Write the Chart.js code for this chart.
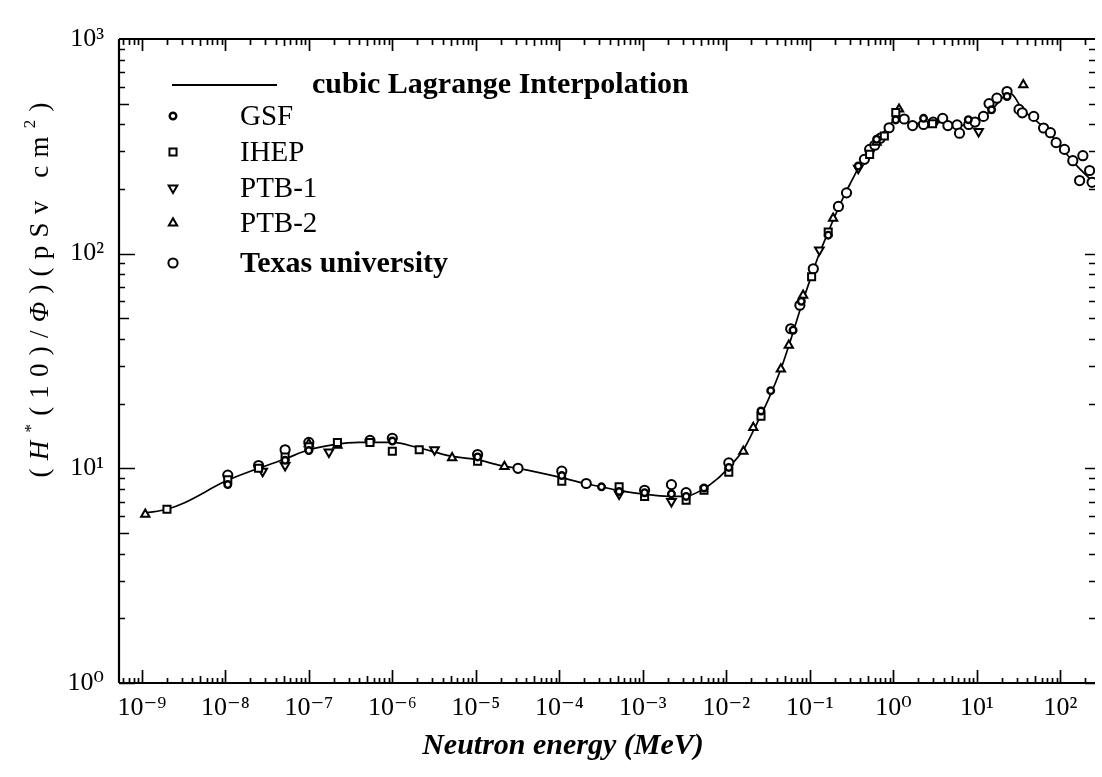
<!DOCTYPE html>
<html>
<head>
<meta charset="utf-8">
<script src="https://cdn.jsdelivr.net/npm/chart.js@4.4.1/dist/chart.umd.min.js"></script>
<style>
html,body{margin:0;padding:0;background:#fff;}
canvas{display:block;}
</style>
</head>
<body>
<canvas id="c" width="1102" height="777"></canvas>
<script>
// ---------- tick labels ----------
const xTickExponents = [-9,-8,-7,-6,-5,-4,-3,-2,-1,0,1,2];
const xTickLabels = ['10⁻⁹','10⁻⁸','10⁻⁷','10⁻⁶','10⁻⁵','10⁻⁴','10⁻³','10⁻²','10⁻¹','10⁰','10¹','10²'];
const yTickExponents = [0,1,2,3];
const yTickLabels = ['10⁰','10¹','10²','10³'];
const xAxisMin = 5.33e-10, xAxisMax = 260;
const yAxisMin = 1, yAxisMax = 1000;
const xTitle = 'Neutron energy (MeV)';

// ---------- series names ----------
const lineLabel = 'cubic Lagrange Interpolation';
const seriesNames = ['GSF','IHEP','PTB-1','PTB-2','Texas university'];

// ---------- interpolation curve (MeV, pSv cm²) ----------
const lineE = [1.12e-9,2.0e-9,3.2e-9,1e-8,2.5e-8,5e-8,1e-7,2e-7,4e-7,1e-6,2e-6,5e-6,1e-5,2e-5,3.2e-5,1e-4,2e-4,3.2e-4,5e-4,1e-3,2e-3,3.2e-3,5e-3,8e-3,1.07e-2,1.6e-2,2.2e-2,3.2e-2,4.5e-2,6.3e-2,8e-2,0.1,0.126,0.16,0.2,0.25,0.32,0.4,0.5,0.63,0.8,1.0,1.2,1.6,2.5,4,6.3,9,12.6,16,20,25,28,35,50,71,100,160,250];
const lineV = [6.2,6.45,6.9,8.7,10.0,11.0,12.2,12.9,13.2,13.2,12.5,11.4,11.0,10.3,10.0,9.1,8.5,8.2,7.9,7.6,7.4,7.4,7.9,9.0,10.1,12.2,15.5,21,29,43,58,75,97,122,150,182,220,260,300,340,375,415,435,405,405,410,395,405,440,480,530,560,540,470,420,370,315,255,215];

// ---------- measured points ----------
const gsfE = [1.07e-8,5.2e-8,1e-7,1.0e-6,1.05e-5,1.07e-4,3.2e-4,5.2e-4,1.05e-3,2.2e-3,3.3e-3,5.4e-3,1.07e-2,2.6e-2,3.4e-2,6.3e-2,7.9e-2,0.166,0.38,0.63,1.07,2.3,7.9,15,23];
const gsfV = [8.4,10.9,12.1,13.4,11.3,9.25,8.2,7.8,7.7,7.6,7.4,8.1,10.1,18.5,23,44,60,122,256,341,420,427,421,468,540];

const ihepE = [2.0e-9,1.07e-8,2.5e-8,5.2e-8,1e-7,2.2e-7,5.4e-7,1.0e-6,2.1e-6,1.05e-5,1.07e-4,5.2e-4,1.05e-3,3.3e-3,5.4e-3,1.07e-2,2.6e-2,0.105,0.166,0.52,0.78,1.07,2.95];
const ihepV = [6.45,8.85,10.0,11.3,12.6,13.2,13.2,12.0,12.2,10.8,8.7,8.2,7.4,7.1,7.9,9.6,17.5,78,126,290,353,454,403];

const ptb1E = [2.8e-8,5.2e-8,1.74e-7,3.2e-6,5.2e-4,2.2e-3,0.13,0.38,10.5];
const ptb1V = [9.7,10.3,11.9,12.2,7.6,7.0,104,250,371];

const ptb2E = [1.1e-9,1e-7,2.2e-7,5.2e-6,2.2e-5,1.6e-2,2.1e-2,4.5e-2,5.6e-2,8.3e-2,0.19,0.63,1.17,36];
const ptb2V = [6.1,13.0,12.8,11.2,10.2,12.0,15.5,29,37.4,64,146,330,471,612];

const texasE = [1.07e-8,2.5e-8,5.2e-8,1e-7,5.4e-7,1.0e-6,1.05e-5,3.2e-5,1.07e-4,2.1e-4,1.05e-3,2.2e-3,3.3e-3,1.07e-2,5.9e-2,7.6e-2,0.11,0.22,0.275,0.45,0.52,0.6,0.7,0.89,1.35,1.7,2.3,3,3.9,4.5,5.8,6.2,8,9.5,12,14,17.4,23,32,35,48,63,76,89,112,141,170,186,224,240];
const texasV = [9.3,10.3,12.2,13.2,13.5,13.8,11.6,10.0,9.7,8.5,7.9,8.4,7.7,10.6,44.7,57.5,85,166,192,275,306,320,345,386,424,395,400,410,427,395,398,364,400,410,436,500,530,569,470,453,436,385,366,329,306,271,219,286,244,215];

// ---------- build datasets ----------
const pts = (E, V) => E.map((e, i) => ({x: e, y: V[i]}));
const markerBase = {showLine:false, backgroundColor:'#fff', borderColor:'#000', pointBackgroundColor:'#fff', pointBorderColor:'#000'};
const datasets = [
  Object.assign({label: seriesNames[0], data: pts(gsfE, gsfV), pointStyle:'circle', pointRadius:3.3, pointBorderWidth:2.4, order:1}, markerBase),
  Object.assign({label: seriesNames[1], data: pts(ihepE, ihepV), pointStyle:'rect', pointRadius:5, pointBorderWidth:2, order:2}, markerBase),
  Object.assign({label: seriesNames[2], data: pts(ptb1E, ptb1V), pointStyle:'triangle', pointRotation:180, pointRadius:5, pointBorderWidth:2, order:3}, markerBase),
  Object.assign({label: seriesNames[3], data: pts(ptb2E, ptb2V), pointStyle:'triangle', pointRadius:4.8, pointBorderWidth:2, order:4}, markerBase),
  Object.assign({label: seriesNames[4], data: pts(texasE, texasV), pointStyle:'circle', pointRadius:4.6, pointBorderWidth:2, order:5}, markerBase),
  {label: lineLabel, data: pts(lineE, lineV), showLine:true, borderColor:'#000', borderWidth:1.7, pointRadius:0, fill:false, cubicInterpolationMode:'monotone', order:10}
];

const serif = '"Liberation Serif", "DejaVu Serif", serif';

// ---------- manual marker drawing for legend ----------
function drawMarker(ctx, ds, x, y) {
  ctx.save();
  ctx.fillStyle = '#fff'; ctx.strokeStyle = '#000'; ctx.lineWidth = ds.pointBorderWidth;
  const r = ds.pointRadius;
  ctx.beginPath();
  if (ds.pointStyle === 'circle') {
    ctx.arc(x, y, r, 0, Math.PI * 2);
  } else if (ds.pointStyle === 'rect') {
    const s = r * Math.SQRT1_2;
    ctx.rect(x - s, y - s, 2 * s, 2 * s);
  } else if (ds.pointStyle === 'triangle') {
    const dir = ds.pointRotation === 180 ? -1 : 1;
    ctx.moveTo(x, y - dir * r);
    ctx.lineTo(x + r * 0.866, y + dir * r * 0.5);
    ctx.lineTo(x - r * 0.866, y + dir * r * 0.5);
    ctx.closePath();
  }
  ctx.fill(); ctx.stroke();
  ctx.restore();
}

// ---------- frame, inner ticks, legend, axis titles ----------
const decorations = {
  id: 'decorations',
  afterDraw(chart) {
    const {ctx, chartArea, scales} = chart;
    const {left, right, top, bottom} = chartArea;
    const xs = scales.x, ys = scales.y;
    ctx.save();
    ctx.strokeStyle = '#000';
    ctx.lineWidth = 2.2;
    ctx.beginPath();
    ctx.moveTo(left, top); ctx.lineTo(right, top);
    ctx.moveTo(left, top); ctx.lineTo(left, bottom);
    ctx.moveTo(left, bottom); ctx.lineTo(right, bottom);
    ctx.stroke();

    ctx.lineWidth = 1.7;
    ctx.beginPath();
    for (let e = -10; e <= 2; e++) {
      for (let m = 1; m < 10; m++) {
        const v = m * Math.pow(10, e);
        if (v < xs.min || v > xs.max) continue;
        const px = Math.round(xs.getPixelForValue(v)) + 0.5;
        const lb = m === 1 ? 13 : (m === 5 ? 7 : 5);
        const lt = m === 1 ? 12 : (m === 5 ? 7 : 6);
        ctx.moveTo(px, bottom); ctx.lineTo(px, bottom - lb);
        ctx.moveTo(px, top); ctx.lineTo(px, top + lt);
      }
    }
    for (let e = 0; e <= 2; e++) {
      for (let m = 1; m < 10; m++) {
        const v = m * Math.pow(10, e);
        if (v < ys.min || v > ys.max) continue;
        const py = Math.round(ys.getPixelForValue(v)) + 0.5;
        const ll = m === 1 ? 16 : (m === 5 ? 10 : 6);
        const lr = m === 1 ? 10 : 6;
        ctx.moveTo(left, py); ctx.lineTo(left + ll, py);
        ctx.moveTo(right, py); ctx.lineTo(right - lr, py);
      }
    }
    ctx.stroke();

    // legend
    const lineDs = chart.data.datasets[5];
    ctx.strokeStyle = '#000';
    ctx.lineWidth = 2;
    ctx.beginPath(); ctx.moveTo(172, 85); ctx.lineTo(277, 85); ctx.stroke();
    ctx.fillStyle = '#000';
    ctx.textBaseline = 'middle';
    ctx.textAlign = 'left';
    ctx.font = 'bold 30px ' + serif;
    ctx.fillText(lineDs.label, 312, 85);
    const rowY = [116, 152, 188, 223, 263];
    for (let i = 0; i < 5; i++) {
      const ds = chart.data.datasets[i];
      drawMarker(ctx, ds, 173, rowY[i]);
      ctx.fillStyle = '#000';
      ctx.font = (i === 4 ? 'bold 30px ' : '29px ') + serif;
      ctx.fillText(ds.label, 240, rowY[i] + 1);
    }

    // x title
    ctx.font = 'bold italic 30px ' + serif;
    ctx.textAlign = 'center';
    ctx.fillText(xTitle, 563, 746);

    // y title (rotated, mixed styles)
    const reg = '27px ' + serif, ital = 'italic 27px ' + serif, sm = '17px ' + serif;
    const pieces = [
      {t:'(', f:reg}, {t:'H', f:ital}, {t:'*', f:sm, dy:-9}, {t:'(10)/', f:reg}, {t:'Φ', f:ital},
      {t:')(pSv cm', f:reg}, {t:'2', f:sm, dy:-10}, {t:')', f:reg}
    ];
    const spacing = 8.2;
    let total = 0, nChars = 0;
    pieces.forEach(p => {
      ctx.font = p.f;
      for (const ch of p.t) { total += ctx.measureText(ch).width; nChars++; }
    });
    total += spacing * (nChars - 1);
    ctx.save();
    ctx.translate(41, 290);
    ctx.rotate(-Math.PI / 2);
    ctx.textAlign = 'left';
    ctx.textBaseline = 'middle';
    let cx = -total / 2;
    pieces.forEach(p => {
      ctx.font = p.f;
      for (const ch of p.t) {
        ctx.fillText(ch, cx, (p.dy || 0));
        cx += ctx.measureText(ch).width + spacing;
      }
    });
    ctx.restore();
    ctx.restore();
  }
};

new Chart(document.getElementById('c'), {
  type: 'scatter',
  data: {datasets},
  options: {
    responsive: false,
    animation: false,
    devicePixelRatio: 1,
    layout: {padding: {top: 39, right: 0, bottom: 0, left: 0}},
    plugins: {legend: {display: false}, tooltip: {enabled: false}},
    scales: {
      x: {
        type: 'logarithmic', min: xAxisMin, max: xAxisMax,
        afterBuildTicks: s => { s.ticks = xTickExponents.map(e => ({value: Math.pow(10, e)})); },
        afterFit: s => { s.height = 94; },
        grid: {display: false}, border: {display: false},
        ticks: {callback: (v, i) => xTickLabels[i], color: '#000', font: {family: serif, size: 26}, padding: 2, maxRotation: 0, minRotation: 0, autoSkip: false}
      },
      y: {
        type: 'logarithmic', min: yAxisMin, max: yAxisMax,
        afterBuildTicks: s => { s.ticks = yTickExponents.map(e => ({value: Math.pow(10, e)})); },
        afterFit: s => { s.width = 119; },
        grid: {display: false}, border: {display: false},
        ticks: {callback: (v, i) => yTickLabels[i], color: '#000', font: {family: serif, size: 26}, padding: 7, autoSkip: false}
      }
    }
  },
  plugins: [decorations]
});
</script>
</body>
</html>
